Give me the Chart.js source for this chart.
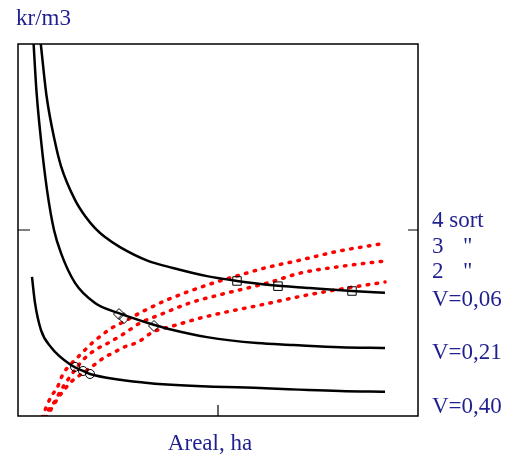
<!DOCTYPE html>
<html>
<head>
<meta charset="utf-8">
<script src="https://cdn.jsdelivr.net/npm/chart.js@4.4.0/dist/chart.umd.min.js"></script>
<style>
  html, body { margin: 0; padding: 0; background: #fff; }
  #wrap { width: 509px; height: 454px; }
</style>
</head>
<body>
<div id="wrap"><canvas id="areal-chart" width="509" height="454"></canvas></div>
<script>
// cost curves (kr/m3) against area, one per tree volume V
const v006X = [0.57, 0.71, 0.92, 1.075, 1.425, 1.7, 1.925, 2.175, 2.55, 3.25, 3.875, 4.725, 5.475, 6.3, 7.3, 8.35, 9.175];
const v006Y = [10.0, 8.63, 7.39, 6.72, 5.81, 5.34, 5.05, 4.81, 4.54, 4.17, 3.98, 3.76, 3.63, 3.52, 3.44, 3.36, 3.31];

const v021X = [0.39, 0.46, 0.575, 0.725, 0.9, 1.075, 1.425, 1.925, 2.5, 3.25, 3.875, 4.725, 5.975, 6.875, 8.05, 9.175];
const v021Y = [10.0, 8.76, 7.42, 6.08, 5.0, 4.38, 3.58, 3.04, 2.77, 2.50, 2.31, 2.12, 1.96, 1.91, 1.85, 1.83];

const v040X = [0.35, 0.425, 0.575, 0.825, 1.325, 1.625, 1.8, 3.25, 6.05, 8.05, 9.175];
const v040Y = [3.74, 3.04, 2.31, 1.85, 1.37, 1.21, 1.13, 0.89, 0.75, 0.67, 0.65];

// dotted curves for the sorts (4 sort, 3, 2)
const sort4X = [0.6, 0.75, 0.85, 0.975, 1.125, 1.3, 1.55, 1.85, 2.125, 2.35, 2.675, 3.1, 3.725, 4.725, 5.55, 6.175, 7.05, 8.05, 9.05];
const sort4Y = [-0.05, 0.35, 0.56, 0.75, 1.13, 1.37, 1.64, 1.96, 2.20, 2.37, 2.55, 2.80, 3.12, 3.52, 3.79, 3.98, 4.19, 4.44, 4.62];

const sort3X = [0.65, 0.8, 0.925, 1.05, 1.225, 1.425, 1.675, 1.925, 2.3, 2.675, 3.05, 3.55, 4.3, 5.125, 6.25, 7.05, 8.125, 9.2];
const sort3Y = [-0.05, 0.22, 0.40, 0.65, 0.94, 1.24, 1.56, 1.77, 1.99, 2.23, 2.50, 2.72, 3.04, 3.28, 3.58, 3.84, 4.03, 4.17];

const sort2X = [0.7, 0.85, 1.0, 1.175, 1.35, 1.55, 1.8, 2.0, 2.175, 2.375, 2.6, 3.0, 3.375, 3.875, 4.55, 5.225, 6.05, 7.125, 8.225, 9.175];
const sort2Y = [-0.05, 0.22, 0.48, 0.73, 0.94, 1.10, 1.29, 1.45, 1.59, 1.69, 1.83, 1.99, 2.26, 2.42, 2.63, 2.80, 2.98, 3.23, 3.44, 3.60];

// crossing points
const squareX = [5.475, 6.5, 8.35];
const squareY = [3.63, 3.49, 3.36];
const diamondX = [2.525, 2.65, 3.4];
const diamondY = [2.74, 2.63, 2.42];
const circleX = [1.425, 1.625, 1.8];
const circleY = [1.32, 1.21, 1.13];

const rightLabels = ['4 sort', '3', '2', 'V=0,06', 'V=0,21', 'V=0,40'];

const zip = (xs, ys) => xs.map((x, i) => ({ x: x, y: ys[i] }));

const blue = '#1f1f8f';

const marker = (xs, ys, style, r) => ({
  data: zip(xs, ys),
  showLine: false,
  pointStyle: style,
  pointRadius: r,
  pointBorderColor: '#000',
  pointBorderWidth: 1,
  pointBackgroundColor: 'rgba(0,0,0,0)',
});

const solid = (xs, ys) => ({
  data: zip(xs, ys),
  showLine: true,
  borderColor: '#000',
  borderWidth: 2.5,
  pointRadius: 0,
  cubicInterpolationMode: 'monotone',
});

const dotted = (xs, ys) => ({
  data: zip(xs, ys),
  showLine: true,
  borderColor: '#ff0000',
  borderWidth: 3.5,
  borderDash: [1.5, 7.5],
  borderCapStyle: 'round',
  pointRadius: 0,
  cubicInterpolationMode: 'monotone',
});

const decorations = {
  id: 'decorations',
  afterDraw(chart) {
    const { ctx, chartArea: a, scales } = chart;
    ctx.save();
    // frame
    ctx.strokeStyle = '#000';
    ctx.lineWidth = 1.5;
    ctx.strokeRect(a.left, a.top, a.right - a.left, a.bottom - a.top);
    // inward ticks at the middle of each axis
    const tx = scales.x.getPixelForValue(5);
    const ty = scales.y.getPixelForValue(5);
    ctx.lineWidth = 1.2;
    ctx.beginPath();
    ctx.moveTo(tx, a.bottom); ctx.lineTo(tx, a.bottom - 11);
    ctx.moveTo(a.left, ty); ctx.lineTo(a.left + 12, ty);
    ctx.moveTo(a.right, ty); ctx.lineTo(a.right - 10, ty);
    ctx.stroke();

    // texts
    ctx.fillStyle = blue;
    ctx.font = '23px "Liberation Serif", "DejaVu Serif", serif';
    ctx.textBaseline = 'alphabetic';
    ctx.textAlign = 'left';
    ctx.fillText('kr/m3', 16, 25);
    ctx.textAlign = 'center';
    ctx.fillText('Areal, ha', (a.left + a.right) / 2 - 8, 450);
    ctx.textAlign = 'left';
    const lx = 432;
    ctx.fillText(rightLabels[0], lx, 227);
    ctx.fillText(rightLabels[1], lx, 253);
    ctx.fillText('"', 463, 253);
    ctx.fillText(rightLabels[2], lx, 278);
    ctx.fillText('"', 463, 278);
    ctx.fillText(rightLabels[3], lx, 306);
    ctx.fillText(rightLabels[4], lx, 359);
    ctx.fillText(rightLabels[5], lx, 413);
    ctx.restore();
  }
};

new Chart(document.getElementById('areal-chart'), {
  type: 'scatter',
  data: {
    datasets: [
      marker(squareX, squareY, 'rect', 6),
      marker(diamondX, diamondY, 'rectRot', 5.5),
      marker(circleX, circleY, 'circle', 4.5),
      solid(v006X, v006Y),
      solid(v021X, v021Y),
      solid(v040X, v040Y),
      dotted(sort4X, sort4Y),
      dotted(sort3X, sort3Y),
      dotted(sort2X, sort2Y),
    ],
  },
  options: {
    responsive: false,
    animation: false,
    layout: { padding: { left: 18, right: 91, top: 44, bottom: 38 } },
    scales: {
      x: { type: 'linear', min: 0, max: 10, display: false },
      y: { type: 'linear', min: 0, max: 10, display: false },
    },
    plugins: {
      legend: { display: false },
      tooltip: { enabled: false },
    },
  },
  plugins: [decorations],
});
</script>
</body>
</html>
